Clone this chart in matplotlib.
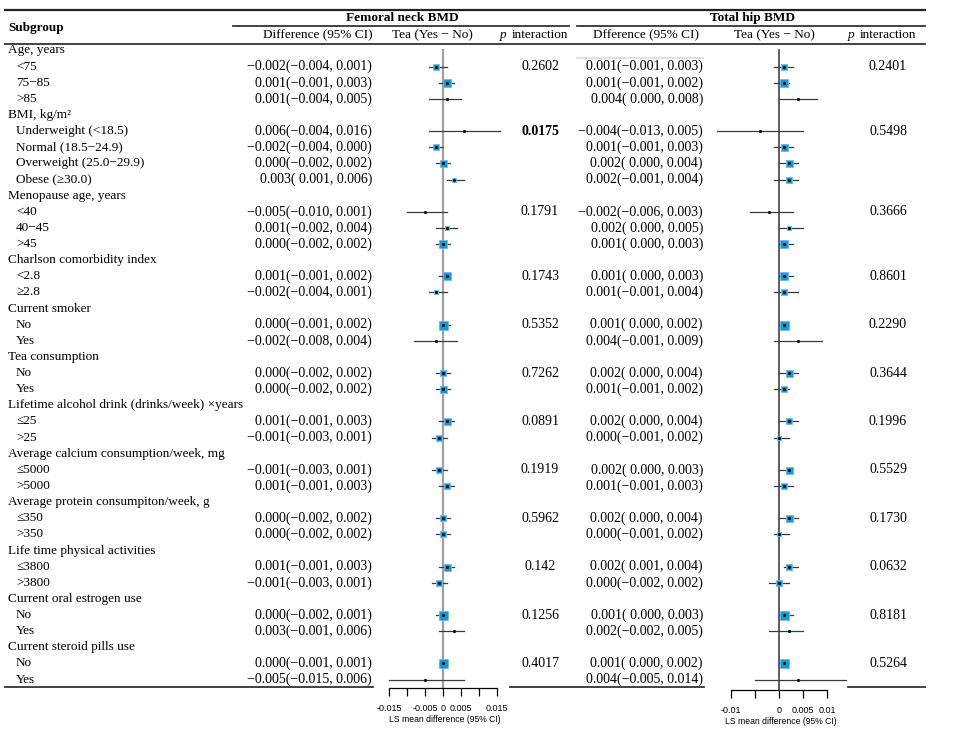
import numpy as np
import matplotlib.pyplot as plt

plt.rcParams['font.family'] = ['Liberation Serif', 'DejaVu Serif']
plt.rcParams['font.size'] = 9.5

# subgroups
group_names = ["Age, years", "BMI, kg/m²", "Menopause age, years", "Charlson comorbidity index",
               "Current smoker", "Tea consumption", "Lifetime alcohol drink (drinks/week) ×years",
               "Average calcium consumption/week, mg", "Average protein consumpiton/week, g",
               "Life time physical activities", "Current oral estrogen use", "Current steroid pills use"]
group_items = [["<75", "75−85", ">85"],
               ["Underweight (<18.5)", "Normal (18.5−24.9)", "Overweight (25.0−29.9)", "Obese (≥30.0)"],
               ["<40", "40−45", ">45"],
               ["<2.8", "≥2.8"],
               ["No", "Yes"],
               ["No", "Yes"],
               ["≤25", ">25"],
               ["≤5000", ">5000"],
               ["≤350", ">350"],
               ["≤3800", ">3800"],
               ["No", "Yes"],
               ["No", "Yes"]]

# femoral neck BMD
fn_est = [-0.002, 0.001, 0.001, 0.006, -0.002, 0.000, 0.003, -0.005, 0.001, 0.000, 0.001, -0.002,
          0.000, -0.002, 0.000, 0.000, 0.001, -0.001, -0.001, 0.001, 0.000, 0.000, 0.001, -0.001,
          0.000, 0.003, 0.000, -0.005]
fn_lo = [-0.004, -0.001, -0.004, -0.004, -0.004, -0.002, 0.001, -0.010, -0.002, -0.002, -0.001, -0.004,
         -0.001, -0.008, -0.002, -0.002, -0.001, -0.003, -0.003, -0.001, -0.002, -0.002, -0.001, -0.003,
         -0.002, -0.001, -0.001, -0.015]
fn_hi = [0.001, 0.003, 0.005, 0.016, 0.000, 0.002, 0.006, 0.001, 0.004, 0.002, 0.002, 0.001,
         0.002, 0.004, 0.002, 0.002, 0.003, 0.001, 0.001, 0.003, 0.002, 0.002, 0.003, 0.001,
         0.001, 0.006, 0.001, 0.006]
fn_size = [6, 8, 2, 1, 6, 7, 5, 1, 5, 8, 8, 5, 9, 1, 6, 7, 7, 6, 6, 6, 6, 6, 7, 6, 9, 2, 9, 1]
fn_p = ["0.2602", "0.0175", "0.1791", "0.1743", "0.5352", "0.7262", "0.0891", "0.1919",
        "0.5962", "0.142", "0.1256", "0.4017"]
fn_p_bold = [False, True] + [False] * 10

# total hip BMD
th_est = [0.001, 0.001, 0.004, -0.004, 0.001, 0.002, 0.002, -0.002, 0.002, 0.001, 0.001, 0.001,
          0.001, 0.004, 0.002, 0.001, 0.002, 0.000, 0.002, 0.001, 0.002, 0.000, 0.002, 0.000,
          0.001, 0.002, 0.001, 0.004]
th_lo = [-0.001, -0.001, 0.000, -0.013, -0.001, 0.000, -0.001, -0.006, 0.000, 0.000, 0.000, -0.001,
         0.000, -0.001, 0.000, -0.001, 0.000, -0.001, 0.000, -0.001, 0.000, -0.001, 0.001, -0.002,
         0.000, -0.002, 0.000, -0.005]
th_hi = [0.003, 0.002, 0.008, 0.005, 0.003, 0.004, 0.004, 0.003, 0.005, 0.003, 0.003, 0.004,
         0.002, 0.009, 0.004, 0.002, 0.004, 0.002, 0.003, 0.003, 0.004, 0.002, 0.004, 0.002,
         0.003, 0.005, 0.002, 0.014]
th_size = [6, 8, 2, 1, 7, 7, 6, 1, 5, 8, 8, 6, 9, 1, 7, 6, 6, 5, 7, 6, 7, 5, 6, 6, 9, 2, 9, 1]
th_p = ["0.2401", "0.5498", "0.3666", "0.8601", "0.2290", "0.3644", "0.1996", "0.5529",
        "0.1730", "0.0632", "0.8181", "0.5264"]

fn_ticks = [-0.015, -0.01, -0.005, 0, 0.005, 0.01, 0.015]
fn_ticklabels = ["-0.015", "", "-0.005", "0", "0.005", "", "0.015"]
th_ticks = [-0.01, -0.005, 0, 0.005, 0.01]
th_ticklabels = ["-0.01", "", "0", "0.005", "0.01"]

W, H = 960, 733
fig = plt.figure(figsize=(W / 100, H / 100), dpi=100)
ax = fig.add_axes([0, 0, 1, 1])
ax.set_xlim(0, W)
ax.set_ylim(H, 0)
ax.axis('off')

y0, dy = 50.5, 16.13


def fmt(v):
    return ("−" if v < 0 else "") + f"{abs(v):.3f}"


def ci_text(e, l, h):
    return f"{fmt(e)}({fmt(l) if l < 0 else ' ' + fmt(l)}, {fmt(h)})"


# rows of the table
row = 0
item_y = []
first_y = []
for g, items in zip(group_names, group_items):
    ax.text(8, y0 + row * dy, g, va='center', ha='left')
    row += 1
    first_y.append(y0 + row * dy)
    for it in items:
        ax.text(16, y0 + row * dy, it, va='center', ha='left')
        item_y.append(y0 + row * dy)
        row += 1

for i, y in enumerate(item_y):
    ax.text(372, y, ci_text(fn_est[i], fn_lo[i], fn_hi[i]), va='center', ha='right', fontsize=10)
    ax.text(703, y, ci_text(th_est[i], th_lo[i], th_hi[i]), va='center', ha='right', fontsize=10)

for i, y in enumerate(first_y):
    ax.text(540, y, fn_p[i], va='center', ha='center', fontsize=10,
            fontweight='bold' if fn_p_bold[i] else 'normal')
    ax.text(888, y, th_p[i], va='center', ha='center', fontsize=10)

# header
ax.text(8, 28, "Subgroup", va='center', ha='left', fontweight='bold')
ax.text(402, 18, "Femoral neck BMD", va='center', ha='center', fontweight='bold')
ax.text(752, 18, "Total hip BMD", va='center', ha='center', fontweight='bold')
ax.text(318, 35, "Difference (95% CI)", va='center', ha='center')
ax.text(432, 35, "Tea (Yes − No)", va='center', ha='center')
ax.text(506, 35, "p", va='center', ha='right', style='italic')
ax.text(512, 35, "interaction", va='center', ha='left')
ax.text(646, 35, "Dfference (95% CI)", va='center', ha='center')
ax.text(774, 35, "Tea (Yes − No)", va='center', ha='center')
ax.text(854, 35, "p", va='center', ha='right', style='italic')
ax.text(860, 35, "interaction", va='center', ha='left')

# table rules
ax.plot([5, 925], [10, 10], color='#222222', lw=1.6)
ax.plot([233, 569], [26, 26], color='#333333', lw=1.3)
ax.plot([577, 925], [26, 26], color='#333333', lw=1.3)
ax.plot([5, 925], [44, 44], color='#333333', lw=1.3)
ax.plot([577, 703], [58, 58], color='#e2e2e2', lw=1.5)
ax.plot([5, 373], [687, 687], color='#333333', lw=1.3)
ax.plot([510, 704], [687, 687], color='#333333', lw=1.3)
ax.plot([848, 925], [687, 687], color='#333333', lw=1.3)


def forest(px0, px1, zero_px, scale, bottom, est, lo, hi, size, ticks, labels, zc, zlw):
    fa = fig.add_axes([px0 / W, (H - bottom) / H, (px1 - px0) / W, (bottom - 45) / H])
    fa.set_xlim((px0 - zero_px) / scale, (px1 - zero_px) / scale)
    fa.set_ylim(bottom, 45)
    fa.patch.set_alpha(0)
    for s in ['top', 'left', 'right']:
        fa.spines[s].set_visible(False)
    fa.spines['bottom'].set_bounds(ticks[0], ticks[-1])
    fa.spines['bottom'].set_linewidth(0.9)
    fa.set_yticks([])
    fa.set_xticks(ticks)
    fa.set_xticklabels(labels, family='Liberation Sans')
    fa.tick_params(axis='x', length=5.5, width=0.9, labelsize=6.5, pad=6)
    fa.set_xlabel("LS mean difference (95% CI)", family='Liberation Sans', fontsize=6.2, labelpad=1.5)
    fa.plot([0, 0], [50, bottom], color=zc, lw=zlw, zorder=1)
    for i, y in enumerate(item_y):
        fa.plot([lo[i], hi[i]], [y, y], color='#3a3a3a', lw=0.9, zorder=2)
        fa.plot(est[i], y, marker='s', ms=size[i] * 0.72, mfc='#1c97d6', mec='#66bde8',
                mew=0.6, zorder=3)
        fa.plot(est[i], y, marker='o', ms=1.3, color='#111111', zorder=4)
    return fa


forest(380, 510, 443, 3570, 688, fn_est, fn_lo, fn_hi, fn_size, fn_ticks, fn_ticklabels, '#a0a0a0', 1.6)
forest(712, 850, 779, 4800, 690, th_est, th_lo, th_hi, th_size, th_ticks, th_ticklabels, '#333333', 1.1)

fig.savefig("out.png", dpi=100)
